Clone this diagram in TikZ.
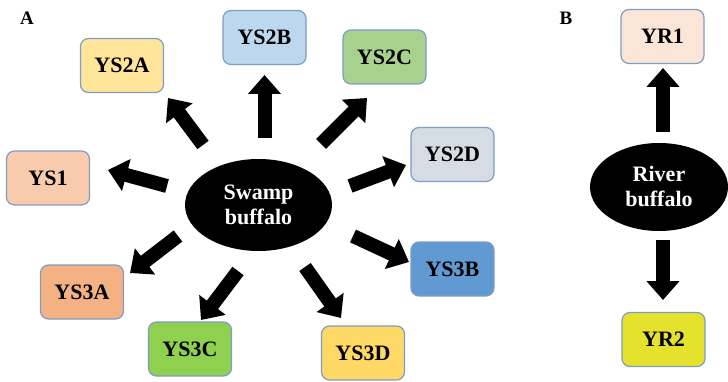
\documentclass[tikz,border=0pt]{standalone}
\usepackage{fontspec}
\setmainfont{Liberation Serif}
\usetikzlibrary{arrows.meta,shapes.geometric}
\definecolor{cborder}{HTML}{7E9CC5}
\definecolor{cYSiiA}{HTML}{FFE59A}
\definecolor{cYSiiB}{HTML}{BDD7EE}
\definecolor{cYSiiC}{HTML}{A9D18E}
\definecolor{cYSiiD}{HTML}{D6DCE4}
\definecolor{cYSiiiB}{HTML}{6199D2}
\definecolor{cYSi}{HTML}{F8CBAD}
\definecolor{cYSiiiA}{HTML}{F4B183}
\definecolor{cYSiiiC}{HTML}{8FD14F}
\definecolor{cYSiiiD}{HTML}{FFD966}
\definecolor{cYRi}{HTML}{FBE5D6}
\definecolor{cYRii}{HTML}{E5E22D}
\tikzset{
  hapbox/.style={draw=cborder, line width=1.2pt, rounded corners=8pt,
    minimum width=83pt, minimum height=54pt, inner sep=0pt,
    font=\fontsize{22}{26}\selectfont\bfseries},
  origin/.style={ellipse, fill=black, inner sep=0pt, text=white,
    align=center, font=\fontsize{22}{25}\selectfont\bfseries},
  bigarrow/.style={line width=14pt, -{Triangle[width=32pt,length=19pt]}},
  panel/.style={font=\fontsize{19}{22}\selectfont\bfseries}
}
\begin{document}
\begin{tikzpicture}[x=1pt,y=-1pt]
\useasboundingbox (0,0) rectangle (728,382);
% panel labels
\node[panel] (lA) at (27,18) {A};
\node[panel] (lB) at (566,18) {B};
% swamp buffalo
\node[origin, minimum width=147pt, minimum height=92pt] (sw) at (258.5,205) {Swamp\\buffalo};
\node[hapbox, fill=cYSiiA] (ys2a) at (122,65.5) {YS2A};
\node[hapbox, fill=cYSiiB] (ys2b) at (264.5,37.5) {YS2B};
\node[hapbox, fill=cYSiiC] (ys2c) at (384.5,57) {YS2C};
\node[hapbox, fill=cYSiiD] (ys2d) at (452.5,154.5) {YS2D};
\node[hapbox, fill=cYSiiiB] (ys3b) at (452.5,269) {YS3B};
\node[hapbox, fill=cYSi] (ys1) at (48,178) {YS1};
\node[hapbox, fill=cYSiiiA] (ys3a) at (82,292) {YS3A};
\node[hapbox, fill=cYSiiiC] (ys3c) at (190,349) {YS3C};
\node[hapbox, fill=cYSiiiD] (ys3d) at (363,353) {YS3D};
% river buffalo
\node[origin, minimum width=138pt, minimum height=88pt] (rv) at (659,187) {River\\buffalo};
\node[hapbox, fill=cYRi] (yr1) at (662.5,36.5) {YR1};
\node[hapbox, fill=cYRii] (yr2) at (663.5,339.5) {YR2};
% arrow ends
\coordinate (s2b) at (264.5,138); \coordinate (e2b) at (264.5,75);
\coordinate (s2c) at (321,144);   \coordinate (e2c) at (367,98);
\coordinate (s2a) at (203,145);   \coordinate (e2a) at (168,98);
\coordinate (s1)  at (167,186);   \coordinate (e1)  at (108,170);
\coordinate (s2d) at (350,186);   \coordinate (e2d) at (406,165);
\coordinate (s3b) at (353,236);   \coordinate (e3b) at (409,262);
\coordinate (s3a) at (178,236);   \coordinate (e3a) at (130,273);
\coordinate (s3c) at (238,271);   \coordinate (e3c) at (201,320);
\coordinate (s3d) at (305,267);   \coordinate (e3d) at (341,318);
\coordinate (sr1) at (663,132);   \coordinate (er1) at (663,68);
\coordinate (sr2) at (663,240);   \coordinate (er2) at (663,300);
\draw[bigarrow] (s2b) -- (e2b);
\draw[bigarrow] (s2c) -- (e2c);
\draw[bigarrow] (s2a) -- (e2a);
\draw[bigarrow] (s1) -- (e1);
\draw[bigarrow] (s2d) -- (e2d);
\draw[bigarrow] (s3b) -- (e3b);
\draw[bigarrow] (s3a) -- (e3a);
\draw[bigarrow] (s3c) -- (e3c);
\draw[bigarrow] (s3d) -- (e3d);
\draw[bigarrow] (sr1) -- (er1);
\draw[bigarrow] (sr2) -- (er2);
\end{tikzpicture}
\end{document}
